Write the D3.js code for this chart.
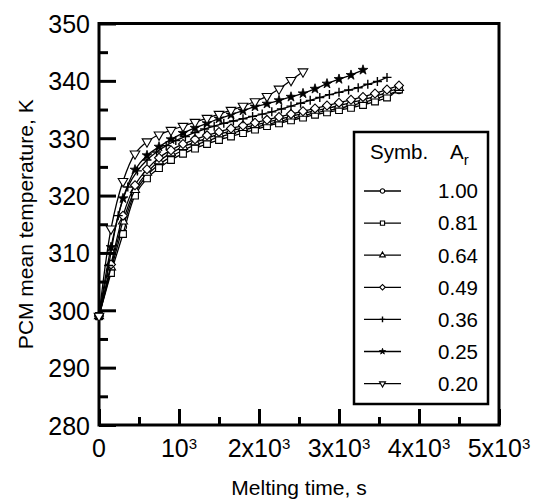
<!DOCTYPE html>
<html>
<head>
<meta charset="utf-8">
<script src="https://cdn.jsdelivr.net/npm/d3@7"></script>
<style>
  body { margin: 0; background: #fff; }
  text { font-family: "Liberation Sans", Arial, sans-serif; fill: #000; }
</style>
</head>
<body>
<div id="chart"></div>
<script>
// data
var ratios = ["1.00", "0.81", "0.64", "0.49", "0.36", "0.25", "0.20"];
var symbols = ["circle", "square", "triangle", "diamond", "plus", "star", "triangleDown"];

var time150 = [0, 150, 300, 450, 600, 750, 900, 1050, 1200, 1350, 1500, 1650, 1800,
  1950, 2100, 2250, 2400, 2550, 2700, 2850, 3000, 3150, 3300, 3450, 3600, 3750];
var time120 = [0, 120, 240, 360, 480, 600, 720, 840, 960, 1080, 1200, 1320, 1440, 1560,
  1680, 1800, 1920, 2040, 2160, 2280, 2400, 2520, 2640, 2760, 2880, 3000, 3120, 3240,
  3360, 3480, 3600];

var temp100 = [299, 307.0, 314.5, 320.5, 323.5, 325.4, 326.8, 327.9, 328.8, 329.5, 330.2,
  330.8, 331.4, 331.9, 332.4, 332.9, 333.4, 333.9, 334.4, 334.8, 335.2, 335.7, 336.2,
  336.8, 337.5, 338.4];
var temp081 = [299, 306.5, 313.3, 320.0, 323.0, 324.8, 326.2, 327.3, 328.2, 329.0, 329.7,
  330.3, 330.9, 331.5, 332.1, 332.6, 333.1, 333.6, 334.1, 334.5, 334.9, 335.3, 335.8,
  336.4, 337.1, 338.5];
var temp064 = [299, 307.5, 315.5, 321.0, 324.0, 326.0, 327.4, 328.5, 329.3, 330.0, 330.7,
  331.3, 331.8, 332.3, 332.8, 333.3, 333.8, 334.3, 334.8, 335.2, 335.7, 336.2, 336.7,
  337.3, 338.0, 338.8];
var temp049 = [299, 308.0, 316.5, 321.8, 324.6, 326.6, 327.9, 329.0, 329.8, 330.5, 331.1,
  331.7, 332.2, 332.7, 333.2, 333.7, 334.2, 334.7, 335.2, 335.7, 336.2, 336.7, 337.2,
  337.8, 338.5, 339.2];
var temp036 = [299, 307.8, 316.5, 321.5, 324.3, 326.2, 327.6, 328.7, 329.6, 330.3, 331.0,
  331.6, 332.1, 332.6, 333.0, 333.4, 333.8, 334.2, 334.6, 335.1, 335.6, 336.1, 336.6,
  337.1, 337.6, 338.0, 338.4, 338.8, 339.4, 339.9, 340.6];
var temp025 = [299, 311.0, 319.5, 324.5, 327.0, 328.5, 329.8, 330.9, 331.8, 332.6, 333.4,
  334.1, 334.8, 335.5, 336.0, 336.6, 337.2, 337.8, 338.6, 339.5, 340.3, 341.0, 341.9];
var temp020 = [299, 314.2, 322.5, 327.3, 329.4, 330.6, 331.4, 332.1, 332.8, 333.5, 334.2,
  334.9, 335.6, 336.4, 337.3, 338.6, 340.1, 341.6];

var seriesTimes = [time150, time150, time150, time150, time120, time150, time150];
var seriesTemps = [temp100, temp081, temp064, temp049, temp036, temp025, temp020];

var yTicks = [280, 290, 300, 310, 320, 330, 340, 350];
var yMinor = [285, 295, 305, 315, 325, 335, 345];
var xTicks = [0, 1000, 2000, 3000, 4000, 5000];
var xMinor = [500, 1500, 2500, 3500, 4500];
var xTickBase = ["0", "10", "2x10", "3x10", "4x10", "5x10"];
var xTickExp = ["", "3", "3", "3", "3", "3"];

var width = 535, height = 500;
var margin = {top: 23.5, right: 36, bottom: 75, left: 99};

var svg = d3.select("#chart").append("svg")
  .attr("width", width)
  .attr("height", height);

var x = d3.scaleLinear().domain([0, 5000]).range([margin.left, width - margin.right]);
var y = d3.scaleLinear().domain([280, 350]).range([height - margin.bottom, margin.top]);

// ticks (inward)
function styleAxis(g) {
  g.select(".domain").remove();
  g.selectAll(".tick line").attr("stroke", "#000").attr("stroke-width", 3);
}

svg.append("g")
  .attr("transform", "translate(0," + y(280) + ")")
  .call(d3.axisBottom(x).tickValues(xTicks).tickSize(-16).tickFormat(""))
  .call(styleAxis);
svg.append("g")
  .attr("transform", "translate(0," + y(280) + ")")
  .call(d3.axisBottom(x).tickValues(xMinor).tickSize(-8).tickFormat(""))
  .call(styleAxis);

var yAxis = svg.append("g")
  .attr("transform", "translate(" + x(0) + ",0)")
  .call(d3.axisLeft(y).tickValues(yTicks).tickSize(-17).tickPadding(9).tickFormat(d3.format("d")))
  .call(styleAxis);
yAxis.selectAll(".tick text")
  .attr("font-size", "25px")
  .attr("font-family", "Liberation Sans, Arial, sans-serif")
  .attr("fill", "#000")
  .attr("dy", "0.36em");

svg.append("g")
  .attr("transform", "translate(" + x(0) + ",0)")
  .call(d3.axisLeft(y).tickValues(yMinor).tickSize(-9).tickFormat(""))
  .call(styleAxis);

// x tick labels with superscript
var xl = svg.selectAll(".xlab")
  .data(xTicks)
  .enter().append("text")
  .attr("class", "xlab")
  .attr("x", function(d) { return x(d); })
  .attr("y", 457)
  .attr("text-anchor", "middle")
  .attr("font-size", "25px");
xl.append("tspan").text(function(d, i) { return xTickBase[i]; });
xl.append("tspan")
  .attr("font-size", "15px")
  .attr("dy", -8)
  .text(function(d, i) { return xTickExp[i]; });

// frame
svg.append("rect")
  .attr("x", x(0))
  .attr("y", y(350))
  .attr("width", x(5000) - x(0))
  .attr("height", y(280) - y(350))
  .attr("fill", "none")
  .attr("stroke", "#000")
  .attr("stroke-width", 3);

// axis titles
svg.append("text")
  .attr("x", (x(0) + x(5000)) / 2)
  .attr("y", 495)
  .attr("text-anchor", "middle")
  .attr("font-size", "21px")
  .text("Melting time, s");

svg.append("text")
  .attr("transform", "translate(33," + ((y(280) + y(350)) / 2) + ") rotate(-90)")
  .attr("text-anchor", "middle")
  .attr("font-size", "21px")
  .text("PCM mean temperature, K");

// markers
function drawMarker(g, type, s) {
  if (type === "circle") {
    g.append("circle").attr("r", 3.6 * s)
      .attr("fill", "#fff").attr("stroke", "#000").attr("stroke-width", 1.1);
  } else if (type === "square") {
    g.append("path").attr("d", d3.symbol(d3.symbolSquare, 46 * s * s)())
      .attr("fill", "#fff").attr("stroke", "#000").attr("stroke-width", 1.1);
  } else if (type === "triangle") {
    g.append("path").attr("d", d3.symbol(d3.symbolTriangle, 36 * s * s)())
      .attr("fill", "#fff").attr("stroke", "#000").attr("stroke-width", 1.1);
  } else if (type === "triangleDown") {
    g.append("path").attr("d", d3.symbol(d3.symbolTriangle, 40 * s * s)())
      .attr("transform", "rotate(180)")
      .attr("fill", "#fff").attr("stroke", "#000").attr("stroke-width", 1.1);
  } else if (type === "diamond") {
    g.append("path").attr("d", d3.symbol(d3.symbolSquare, 40 * s * s)())
      .attr("transform", "rotate(45)")
      .attr("fill", "#fff").attr("stroke", "#000").attr("stroke-width", 1.1);
  } else if (type === "plus") {
    var h = 4.5 * s;
    g.append("path").attr("d", "M" + (-h) + ",0H" + h + "M0," + (-h) + "V" + h)
      .attr("fill", "none").attr("stroke", "#000").attr("stroke-width", 1.4);
  } else if (type === "star") {
    g.append("path").attr("d", d3.symbol(d3.symbolStar, 30 * s * s)())
      .attr("fill", "#000").attr("stroke", "#000").attr("stroke-width", 0.8);
  }
}

// curves
var line = d3.line()
  .x(function(d) { return x(d[0]); })
  .y(function(d) { return y(d[1]); })
  .curve(d3.curveCatmullRom.alpha(0.5));

ratios.forEach(function(r, i) {
  var pts = seriesTemps[i].map(function(v, j) { return [seriesTimes[i][j], v]; });
  var g = svg.append("g").attr("class", "series");
  g.append("path")
    .datum(pts)
    .attr("d", line)
    .attr("fill", "none")
    .attr("stroke", "#000")
    .attr("stroke-width", 1.3);
  g.selectAll(".m")
    .data(pts)
    .enter().append("g")
    .attr("class", "m")
    .attr("transform", function(d) { return "translate(" + x(d[0]) + "," + y(d[1]) + ")"; })
    .each(function() { drawMarker(d3.select(this), symbols[i], 1); });
});

// legend
var lg = svg.append("g");
lg.append("rect")
  .attr("x", 354).attr("y", 132)
  .attr("width", 134).attr("height", 272)
  .attr("fill", "#fff")
  .attr("stroke", "#000")
  .attr("stroke-width", 2.5);

lg.append("text").attr("x", 370).attr("y", 159).attr("font-size", "20.5px").text("Symb.");
var ar = lg.append("text").attr("x", 450).attr("y", 159).attr("font-size", "20.5px");
ar.append("tspan").text("A");
ar.append("tspan").attr("font-size", "15px").attr("dy", 6).text("r");

ratios.forEach(function(r, i) {
  var cy = 191 + i * 32.1;
  lg.append("line")
    .attr("x1", 364).attr("x2", 401)
    .attr("y1", cy).attr("y2", cy)
    .attr("stroke", "#000").attr("stroke-width", 1.3);
  var mg = lg.append("g").attr("transform", "translate(382.5," + cy + ")");
  drawMarker(mg, symbols[i], 0.62);
  lg.append("text")
    .attr("x", 478).attr("y", cy)
    .attr("dy", "0.36em")
    .attr("text-anchor", "end")
    .attr("font-size", "20.5px")
    .text(r);
});
</script>
</body>
</html>
